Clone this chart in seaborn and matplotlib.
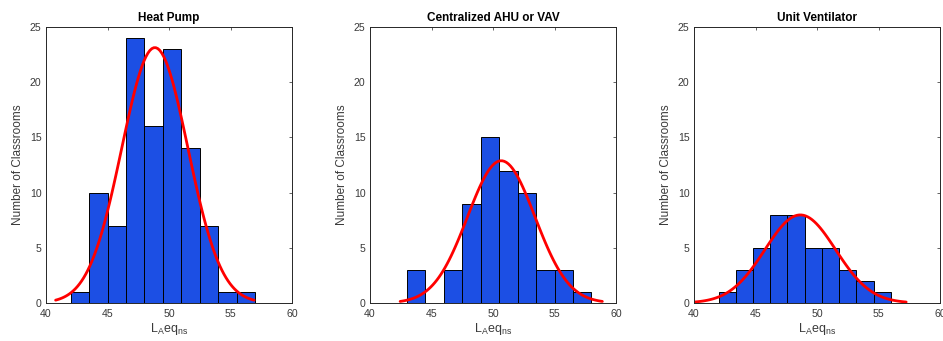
import numpy as np
import pandas as pd
import matplotlib
matplotlib.use("Agg")
import matplotlib.pyplot as plt
import seaborn as sns

# ---------------- data ----------------
titles = ["Heat Pump", "Centralized AHU or VAV", "Unit Ventilator"]

hp_edges = [42.0, 43.5, 45.0, 46.5, 48.0, 49.5, 51.0, 52.5, 54.0, 55.5, 57.0]
hp_counts = [1, 10, 7, 24, 16, 23, 14, 7, 1, 1]
hp_mu, hp_sigma = 48.85, 2.69

ahu_edges = [43.0, 44.5, 46.0, 47.5, 49.0, 50.5, 52.0, 53.5, 55.0, 56.5, 58.0]
ahu_counts = [3, 0, 3, 9, 15, 12, 10, 3, 3, 1]
ahu_mu, ahu_sigma = 50.67, 2.74

uv_edges = [42.0, 43.4, 44.8, 46.2, 47.6, 49.0, 50.4, 51.8, 53.2, 54.6, 56.0]
uv_counts = [1, 3, 5, 8, 8, 5, 5, 3, 2, 1]
uv_mu, uv_sigma = 48.64, 2.87

x_ticks = [40, 45, 50, 55, 60]
y_ticks = [0, 5, 10, 15, 20, 25]

panels = [
    (hp_edges, hp_counts, hp_mu, hp_sigma),
    (ahu_edges, ahu_counts, ahu_mu, ahu_sigma),
    (uv_edges, uv_counts, uv_mu, uv_sigma),
]

# ---------------- style ----------------
sns.set_style("white")
plt.rcParams["font.family"] = ["Liberation Sans", "DejaVu Sans"]
plt.rcParams["mathtext.fontset"] = "custom"
plt.rcParams["mathtext.rm"] = "Liberation Sans"
plt.rcParams["mathtext.it"] = "Liberation Sans"
plt.rcParams["mathtext.default"] = "regular"

AX_COL = "#262626"
TXT_COL = "#3a3a3a"
BAR_COL = "#1c4fe4"

fig = plt.figure(figsize=(9.43, 3.41), dpi=100)
lefts = [46 / 943, 370 / 943, 694 / 943]
width = 246 / 943
bottom = 1 - 303 / 341
height = 276 / 341

for left, title, (edges, counts, mu, sigma) in zip(lefts, titles, panels):
    ax = fig.add_axes([left, bottom, width, height])
    e = np.asarray(edges)
    centers = (e[:-1] + e[1:]) / 2
    df = pd.DataFrame({"x": centers, "w": counts})
    sns.histplot(data=df, x="x", weights="w", bins=list(edges), ax=ax,
                 color=BAR_COL, alpha=1.0, edgecolor="black", linewidth=0.7)

    # normal fit (histfit style: mu +/- 3 sigma, scaled to histogram area)
    binw = e[1] - e[0]
    n = float(np.sum(counts))
    xs = np.linspace(mu - 3 * sigma, mu + 3 * sigma, 100)
    ys = n * binw * np.exp(-0.5 * ((xs - mu) / sigma) ** 2) / (sigma * np.sqrt(2 * np.pi))
    sns.lineplot(x=xs, y=ys, ax=ax, color="red", linewidth=2.0)

    ax.set_xlim(40, 60)
    ax.set_ylim(0, 25)
    ax.set_xticks(x_ticks)
    ax.set_yticks(y_ticks)
    ax.tick_params(direction="in", top=True, right=True, length=2.5, width=0.5,
                   colors=AX_COL, labelcolor=TXT_COL, labelsize=7.6, pad=3.2)
    ax.tick_params(axis="x", pad=4.2)
    for s in ax.spines.values():
        s.set_visible(True)
        s.set_color(AX_COL)
        s.set_linewidth(0.7)
    ax.set_title(title, fontsize=8.5, fontweight="bold", color="black", pad=4)
    ax.set_xlabel(r"L$_A$eq$_{ns}$", fontsize=9, color=TXT_COL, labelpad=1.5)
    ax.set_ylabel("Number of Classrooms", fontsize=8.5, color=TXT_COL, labelpad=4)
    ax.grid(False)

fig.savefig("out.png", dpi=100)
